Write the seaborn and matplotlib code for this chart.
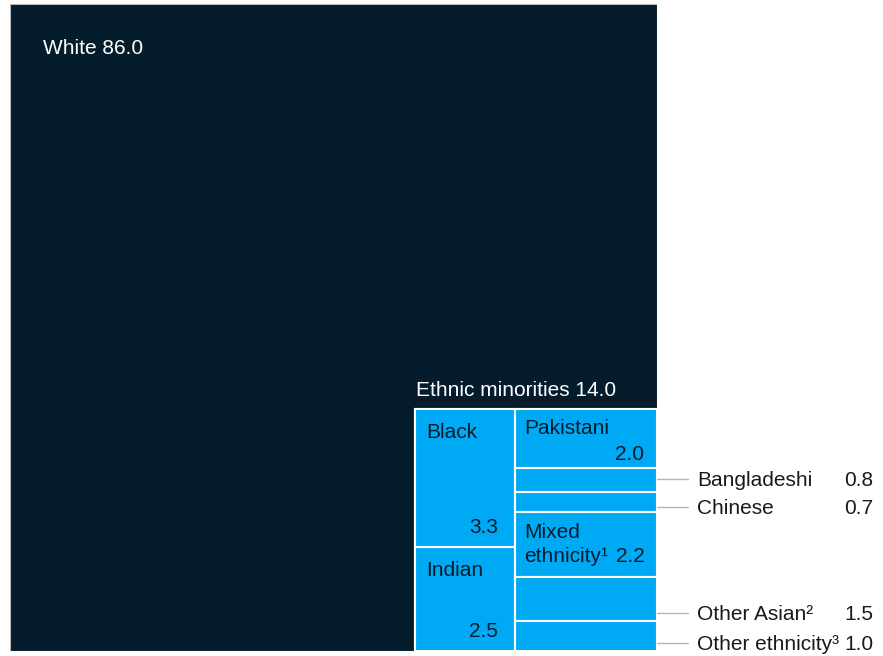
import numpy as np
import matplotlib.pyplot as plt
import seaborn as sns
from matplotlib.patches import Rectangle

# data (% of population)
white_label = "White"
white_value = 86.0
minority_label = "Ethnic minorities"
minority_value = 14.0
left_groups = ["Black", "Indian"]
left_values = [3.3, 2.5]
right_groups = ["Pakistani", "Bangladeshi", "Chinese", "Mixed\nethnicity¹", "Other Asian²", "Other ethnicity³"]
right_values = [2.0, 0.8, 0.7, 2.2, 1.5, 1.0]

NAVY = "#051c2c"
BLUE = "#00a9f4"
GREY = "#b5b5b5"
TXT = "#1a1a1a"

sns.set_theme(style="white")
plt.rcParams['font.family'] = ['Liberation Sans', 'DejaVu Sans']

fig = plt.figure(figsize=(8.83, 6.56), dpi=100)
ax = fig.add_axes([10 / 883, 5 / 656, 647 / 883, 647 / 656])
total = white_value + minority_value
side = np.sqrt(total)
ax.set_xlim(0, side)
ax.set_ylim(side, 0)
ax.axis("off")
PX = side / 647  # data units per pixel

ax.add_patch(Rectangle((0, 0), side, side, facecolor=NAVY, edgecolor=GREY, lw=0.8))

# minorities square sits in the bottom-right corner
m = np.sqrt(minority_value)
x0, y0 = side - m, side - m
ax.add_patch(Rectangle((x0, y0), m, m, facecolor=BLUE, edgecolor="white", lw=1.5))

fs = 15


def put(x, y, s, ha="left", color=TXT):
    ax.text(x, y, s, ha=ha, va="baseline", fontsize=fs, color=color, clip_on=False)


put(33 * PX, 50 * PX, f"{white_label} {white_value:.1f}", color="white")
put(x0 + 1 * PX, y0 - 13 * PX, f"{minority_label} {minority_value:.1f}", color="white")

# left column
wl = m * sum(left_values) / minority_value
y = y0
for name, v in zip(left_groups, left_values):
    h = m * v / sum(left_values)
    ax.add_patch(Rectangle((x0, y), wl, h, facecolor=BLUE, edgecolor="white", lw=1.5))
    put(x0 + 11 * PX, y + 29 * PX, name, color=NAVY)
    put(x0 + wl - 17 * PX, y + h - 14 * PX, f"{v:.1f}", ha="right", color=NAVY)
    y += h

# right column
xr = x0 + wl
wr = side - xr
outside_y = {"Bangladeshi": 486, "Chinese": 514, "Other Asian²": 620, "Other ethnicity³": 650}
y = y0
for name, v in zip(right_groups, right_values):
    h = m * v / sum(right_values)
    ax.add_patch(Rectangle((xr, y), wr, h, facecolor=BLUE, edgecolor="white", lw=1.5))
    if name == "Pakistani":
        put(xr + 9 * PX, y + 25 * PX, name, color=NAVY)
        put(side - 13 * PX, y + h - 8 * PX, f"{v:.1f}", ha="right", color=NAVY)
    elif name.startswith("Mixed"):
        first, second = name.split("\n")
        put(xr + 9 * PX, y + 26 * PX, first, color=NAVY)
        put(xr + 9 * PX, y + h - 15 * PX, second, color=NAVY)
        put(side - 12 * PX, y + h - 15 * PX, f"{v:.1f}", ha="right", color=NAVY)
    else:
        by = (outside_y[name] - 4) * PX
        ly = by - 7.5 * PX
        ax.plot([side, side + 31 * PX], [ly, ly], color=GREY, lw=1, clip_on=False)
        put(side + 40 * PX, by, name)
        put(side + 216 * PX, by, f"{v:.1f}", ha="right")
    y += h

fig.savefig("out.png", dpi=100)
